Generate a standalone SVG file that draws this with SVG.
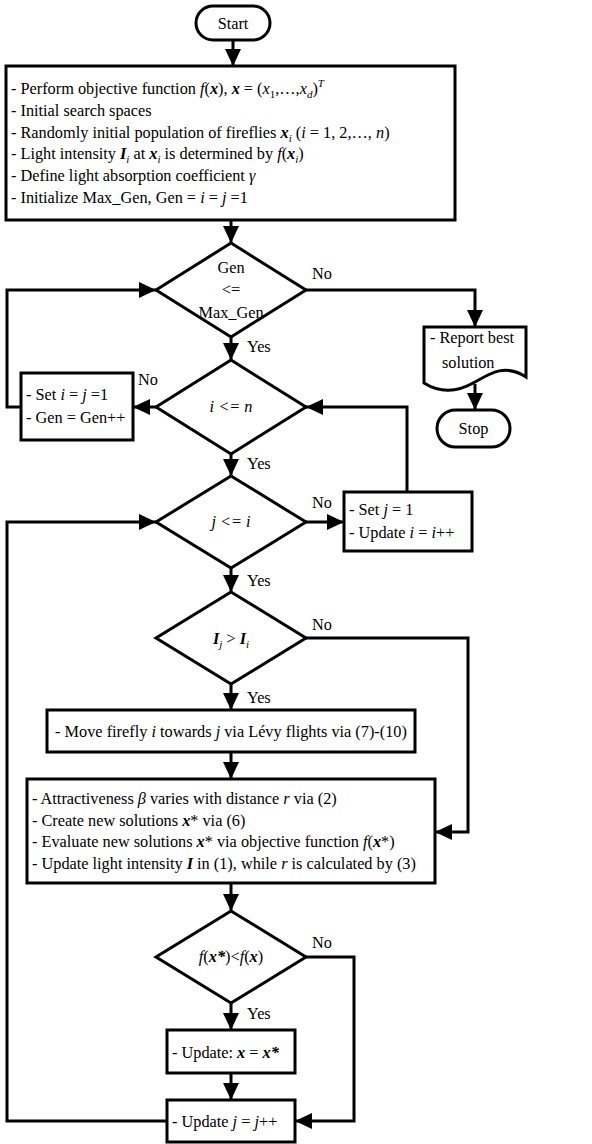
<svg xmlns="http://www.w3.org/2000/svg" width="592" height="1144" viewBox="0 0 592 1144">
<style>
.t { font-family: "Liberation Serif", "Times New Roman", serif; font-size: 16.3px; fill: #000; }
.i { font-style: italic; }
.bi { font-style: italic; font-weight: bold; }
.sub { font-size: 11px; }
.box { fill: #fff; stroke: #000; stroke-width: 3; }
.ln { fill: none; stroke: #000; stroke-width: 3; }
.mid { text-anchor: middle; }
</style>
<defs>
<marker id="ah" markerUnits="userSpaceOnUse" markerWidth="17" markerHeight="16" refX="17" refY="8" orient="auto">
<path d="M0,0 L17,8 L0,16 z" fill="#000"/>
</marker>
</defs>
<rect width="592" height="1144" fill="#fff"/>

<g id="connectors">
<path class="ln" d="M233,40 V66" marker-end="url(#ah)"/>
<path class="ln" d="M231,220 V243" marker-end="url(#ah)"/>
<path class="ln" d="M306,290 H475 V327" marker-end="url(#ah)"/>
<path class="ln" d="M475,384 V410" marker-end="url(#ah)"/>
<path class="ln" d="M231,337 V360" marker-end="url(#ah)"/>
<path class="ln" d="M156,407 H133" marker-end="url(#ah)"/>
<path class="ln" d="M21,407 H7 V290 H156" marker-end="url(#ah)"/>
<path class="ln" d="M231,454 V476" marker-end="url(#ah)"/>
<path class="ln" d="M306,522 H344" marker-end="url(#ah)"/>
<path class="ln" d="M407,492 V407 H306" marker-end="url(#ah)"/>
<path class="ln" d="M167,1121 H7 V522 H156" marker-end="url(#ah)"/>
<path class="ln" d="M231,568 V592" marker-end="url(#ah)"/>
<path class="ln" d="M306,638 H468 V832 H435" marker-end="url(#ah)"/>
<path class="ln" d="M231,684 V710" marker-end="url(#ah)"/>
<path class="ln" d="M231,752 V779" marker-end="url(#ah)"/>
<path class="ln" d="M231,883 V911" marker-end="url(#ah)"/>
<path class="ln" d="M306,957 H354 V1121 H295" marker-end="url(#ah)"/>
<path class="ln" d="M231,1003 V1030" marker-end="url(#ah)"/>
<path class="ln" d="M231,1073 V1100" marker-end="url(#ah)"/>
<text class="t" x="312" y="279">No</text>
<text class="t" x="247" y="352">Yes</text>
<text class="t" x="138" y="385">No</text>
<text class="t" x="247" y="469">Yes</text>
<text class="t" x="312" y="508">No</text>
<text class="t" x="247" y="586">Yes</text>
<text class="t" x="312" y="630">No</text>
<text class="t" x="247" y="703">Yes</text>
<text class="t" x="312" y="948">No</text>
<text class="t" x="247" y="1019">Yes</text>
</g>

<g id="n-start">
<rect class="box" x="196" y="6" width="74" height="34" rx="17"/>
<text class="t mid" x="233" y="28.5">Start</text>
</g>

<g id="n-init">
<rect class="box" x="6" y="66" width="449" height="154"/>
<text class="t" x="11" y="94">- Perform objective function <tspan class="i">f</tspan>(<tspan class="bi">x</tspan>), <tspan class="bi">x</tspan> = (<tspan class="i">x</tspan><tspan class="sub" dy="4">1</tspan><tspan dy="-4">,…,</tspan><tspan class="i">x</tspan><tspan class="sub i" dy="4">d</tspan><tspan dy="-4">)</tspan><tspan class="sub i" dy="-7">T</tspan></text>
<text class="t" x="11" y="115.8">- Initial search spaces</text>
<text class="t" x="11" y="137.6">- Randomly initial population of fireflies <tspan class="bi">x</tspan><tspan class="sub i" dy="4">i</tspan><tspan dy="-4"> (</tspan><tspan class="i">i</tspan> = 1, 2,…, <tspan class="i">n</tspan>)</text>
<text class="t" x="11" y="159.4">- Light intensity <tspan class="bi">I</tspan><tspan class="sub i" dy="4">i</tspan><tspan dy="-4"> at </tspan><tspan class="bi">x</tspan><tspan class="sub i" dy="4">i</tspan><tspan dy="-4"> is determined by </tspan><tspan class="i">f</tspan>(<tspan class="bi">x</tspan><tspan class="sub i" dy="4">i</tspan><tspan dy="-4">)</tspan></text>
<text class="t" x="11" y="181.2">- Define light absorption coefficient <tspan class="i">γ</tspan></text>
<text class="t" x="11" y="203">- Initialize Max_Gen, Gen = <tspan class="i">i</tspan> = <tspan class="i">j</tspan> =1</text>
</g>

<g id="n-d1">
<polygon class="box" points="231,243 306,290 231,337 156,290"/>
<text class="t mid" x="231" y="273">Gen</text>
<text class="t mid" x="231" y="295">&lt;=</text>
<text class="t mid" x="231" y="318">Max_Gen</text>
</g>

<g id="n-report">
<path class="box" d="M424,327 H526 V377 C506,364 492,372 475,382 C458,392 440,393 424,383 Z"/>
<text class="t" x="430" y="343">- Report best</text>
<text class="t" x="442" y="368">solution</text>
</g>

<g id="n-stop">
<rect class="box" x="437" y="410" width="73" height="37" rx="18.5"/>
<text class="t mid" x="473.5" y="434">Stop</text>
</g>

<g id="n-d2">
<polygon class="box" points="231,360 306,407 231,454 156,407"/>
<text class="t mid i" x="231" y="412">i &lt;= n</text>
</g>

<g id="n-seti">
<rect class="box" x="21" y="373" width="112" height="67"/>
<text class="t" x="26" y="400">- Set <tspan class="i">i</tspan> = <tspan class="i">j</tspan> =1</text>
<text class="t" x="26" y="423">- Gen = Gen++</text>
</g>

<g id="n-d3">
<polygon class="box" points="231,476 306,522 231,568 156,522"/>
<text class="t mid i" x="231" y="527">j &lt;= i</text>
</g>

<g id="n-setj">
<rect class="box" x="344" y="492" width="128" height="59"/>
<text class="t" x="349" y="515">- Set <tspan class="i">j</tspan> = 1</text>
<text class="t" x="349" y="538">- Update <tspan class="i">i</tspan> = <tspan class="i">i</tspan>++</text>
</g>

<g id="n-d4">
<polygon class="box" points="231,592 306,638 231,684 156,638"/>
<text class="t mid" x="231" y="644"><tspan class="bi">I</tspan><tspan class="sub i" dy="4">j</tspan><tspan dy="-4"> &gt; </tspan><tspan class="bi">I</tspan><tspan class="sub i" dy="4">i</tspan></text>
</g>

<g id="n-move">
<rect class="box" x="47" y="710" width="368" height="42"/>
<text class="t mid" x="231" y="737">- Move firefly <tspan class="i">i</tspan> towards <tspan class="i">j</tspan> via Lévy flights via (7)-(10)</text>
</g>

<g id="n-attr">
<rect class="box" x="27" y="779" width="408" height="104"/>
<text class="t" x="32" y="804">- Attractiveness <tspan class="i">β</tspan> varies with distance <tspan class="i">r</tspan> via (2)</text>
<text class="t" x="32" y="825.5">- Create new solutions <tspan class="bi">x</tspan>* via (6)</text>
<text class="t" x="32" y="847">- Evaluate new solutions <tspan class="bi">x</tspan>* via objective function <tspan class="i">f</tspan>(<tspan class="bi">x</tspan>*)</text>
<text class="t" x="32" y="868.5">- Update light intensity <tspan class="bi">I</tspan> in (1), while <tspan class="i">r</tspan> is calculated by (3)</text>
</g>

<g id="n-d5">
<polygon class="box" points="231,911 306,957 231,1003 156,957"/>
<text class="t mid" x="231" y="962"><tspan class="i">f</tspan>(<tspan class="bi">x*</tspan>)&lt;<tspan class="i">f</tspan>(<tspan class="bi">x</tspan>)</text>
</g>

<g id="n-updx">
<rect class="box" x="167" y="1030" width="128" height="43"/>
<text class="t" x="172" y="1058">- Update: <tspan class="bi">x</tspan> = <tspan class="bi">x*</tspan></text>
</g>

<g id="n-updj">
<rect class="box" x="167" y="1100" width="128" height="42"/>
<text class="t" x="172" y="1127">- Update <tspan class="i">j</tspan> = <tspan class="i">j</tspan>++</text>
</g>
</svg>
